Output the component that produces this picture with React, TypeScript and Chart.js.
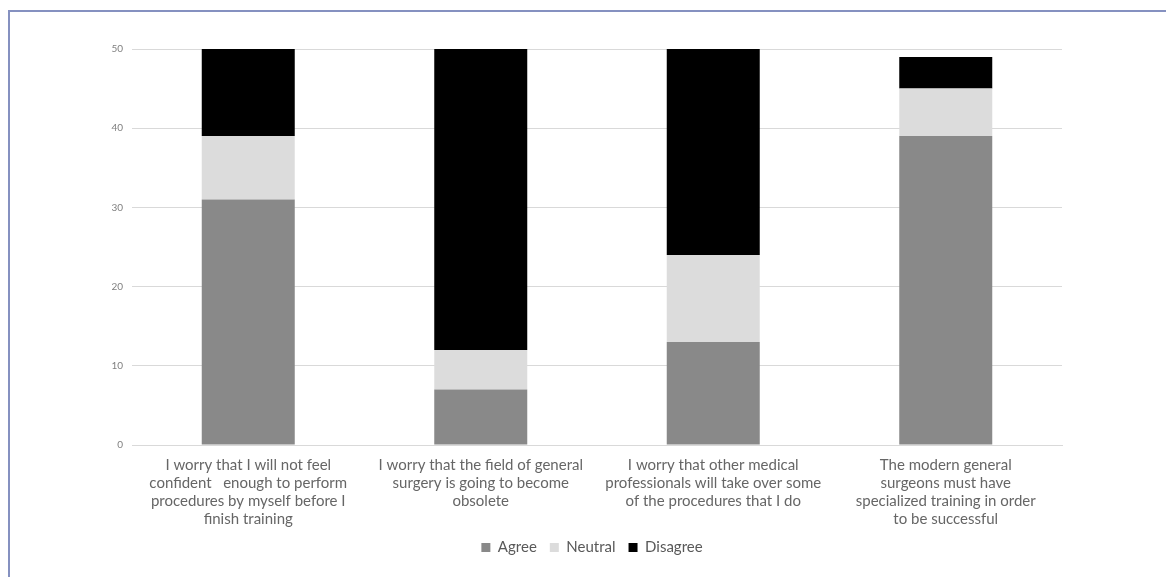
import React, { useEffect, useRef } from "react";
import { Chart, registerables } from "chart.js";

Chart.register(...registerables);

const categories: string[][] = [
  ["I worry that I will not feel", "confident   enough to perform", "procedures by myself before I", "finish training"],
  ["I worry that the field of general", "surgery is going to become", "obsolete"],
  ["I worry that other medical", "professionals will take over some", "of the procedures that I do"],
  ["The modern general", "surgeons must have", "specialized training in order", "to be successful"],
];

const agree = [31, 7, 13, 39];
const neutral = [8, 5, 11, 6];
const disagree = [11, 38, 26, 4];

const yTicks = [0, 10, 20, 30, 40, 50];

const FONT = "Lato, 'Open Sans', sans-serif";

// Nudges the legend box sideways after layout so it sits a little right of the plot centre.
const legendShift = {
  id: "legendShift",
  afterLayout(chart: any) {
    const lg = chart.legend;
    if (lg) {
      lg.left += 15;
      lg.right += 15;
    }
  },
};

export default function App() {
  const canvasRef = useRef<HTMLCanvasElement | null>(null);

  useEffect(() => {
    const canvas = canvasRef.current;
    if (!canvas) return;
    const chart = new Chart(canvas, {
      type: "bar",
      data: {
        labels: categories,
        datasets: [
          { label: "Agree", data: agree, backgroundColor: "#898989" },
          { label: "Neutral", data: neutral, backgroundColor: "#dcdcdc" },
          { label: "Disagree", data: disagree, backgroundColor: "#000000" },
        ],
      },
      plugins: [legendShift],
      options: {
        animation: false,
        responsive: false,
        maintainAspectRatio: false,
        layout: { padding: { left: 82, right: 104, top: 37, bottom: 12 } },
        datasets: {
          bar: { categoryPercentage: 1, barPercentage: 0.4 },
        },
        scales: {
          x: {
            stacked: true,
            grid: { display: false, drawTicks: false },
            border: { display: true, color: "#d9d9d9" },
            ticks: {
              color: "#666666",
              font: { family: FONT, size: 15, lineHeight: 1.2 },
              padding: 11,
              maxRotation: 0,
              autoSkip: false,
            },
            afterFit: (scale: any) => {
              scale.height = 82;
            },
          },
          y: {
            stacked: true,
            min: 0,
            max: 50,
            afterBuildTicks: (scale: any) => {
              scale.ticks = yTicks.map((v) => ({ value: v }));
            },
            grid: { color: "#d9d9d9", drawTicks: false },
            border: { display: false },
            ticks: {
              color: "#808080",
              font: { family: FONT, size: 10 },
              padding: 9,
            },
            afterFit: (scale: any) => {
              scale.width = 40;
            },
          },
        },
        plugins: {
          legend: {
            position: "bottom",
            labels: {
              boxWidth: 9,
              boxHeight: 9,
              padding: 13,
              color: "#595959",
              font: { family: FONT, size: 15 },
            },
          },
          tooltip: { enabled: false },
        },
      },
    });
    return () => chart.destroy();
  }, []);

  return (
    <div
      style={{
        position: "absolute",
        left: 8,
        top: 10,
        width: 1158,
        height: 567,
        borderLeft: "2px solid #8591c0",
        borderTop: "2px solid #8591c0",
        boxSizing: "border-box",
        background: "#ffffff",
        overflow: "hidden",
      }}
    >
      <canvas ref={canvasRef} width={1156} height={565} style={{ display: "block" }} />
    </div>
  );
}
